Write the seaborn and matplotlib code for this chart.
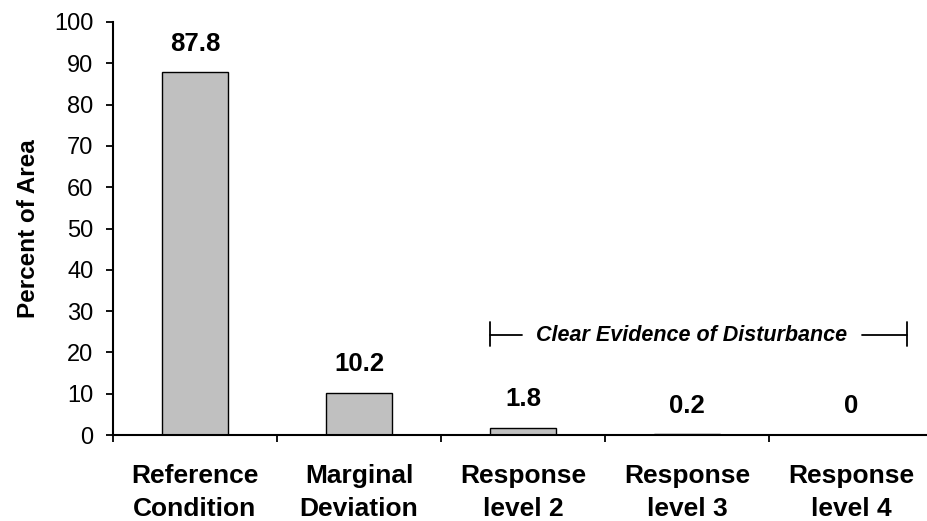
import matplotlib
matplotlib.use("Agg")
import matplotlib.pyplot as plt
import seaborn as sns
import pandas as pd
from matplotlib.ticker import FixedLocator

categories = ["Reference\nCondition", "Marginal\nDeviation", "Response\nlevel 2",
              "Response\nlevel 3", "Response\nlevel 4"]
values = [87.8, 10.2, 1.8, 0.2, 0]
value_labels = ["87.8", "10.2", "1.8", "0.2", "0"]
y_ticks = list(range(0, 101, 10))
annotation_text = "Clear Evidence of Disturbance"

sns.set_theme(style="white")
plt.rcParams['font.family'] = ['Liberation Sans', 'DejaVu Sans']
plt.rcParams['text.color'] = 'black'
plt.rcParams['axes.labelcolor'] = 'black'
plt.rcParams['xtick.color'] = 'black'
plt.rcParams['ytick.color'] = 'black'

df = pd.DataFrame({"cat": categories, "val": values})

fig = plt.figure(figsize=(9.28, 5.21), dpi=100)
ax = fig.add_axes([113/928, 86/521, 820/928, 413/521])

sns.barplot(data=df, x="cat", y="val", color="#C0C0C0", edgecolor="black",
            linewidth=1.0, width=0.4, saturation=1, ax=ax)

ax.set_ylim(0, 100)
ax.set_xlim(-0.5, 4.5)
ax.set_yticks(y_ticks)
ax.set_yticklabels([str(t) for t in y_ticks], fontsize=17)
ax.tick_params(axis="y", direction="out", length=5, width=1.3, pad=9, left=True,
               color="black", labelcolor="black")

ax.tick_params(axis="x", which="major", length=0, pad=21, labelcolor="black")
ax.xaxis.set_minor_locator(FixedLocator([i - 0.5 for i in range(len(categories) + 1)]))
ax.tick_params(axis="x", which="minor", direction="out", length=5, width=1.3,
               bottom=True, color="black")
for lab in ax.get_xticklabels():
    lab.set_fontsize(19)
    lab.set_fontweight("bold")
    lab.set_linespacing(1.45)

ax.set_xlabel("")
ax.set_ylabel("Percent of Area", fontsize=17.5, fontweight="bold", labelpad=10,
              color="black")

for side in ["top", "right"]:
    ax.spines[side].set_visible(False)
for side in ["left", "bottom"]:
    ax.spines[side].set_color("black")
    ax.spines[side].set_linewidth(1.5)

ax.bar_label(ax.containers[0], labels=value_labels, padding=12,
             fontsize=18.5, fontweight="bold", color="black")

# bracket annotation
yb = 24.2
ax.plot([1.8, 1.8], [21.5, 27.4], color="black", lw=1.3, clip_on=False)
ax.plot([1.8, 1.995], [yb, yb], color="black", lw=1.3, clip_on=False)
ax.plot([4.067, 4.341], [yb, yb], color="black", lw=1.3, clip_on=False)
ax.plot([4.341, 4.341], [21.5, 27.4], color="black", lw=1.3, clip_on=False)
ax.text(3.03, yb, annotation_text, ha="center", va="center", fontsize=15.5,
        fontweight="bold", fontstyle="italic", color="black")

fig.savefig("out.png", dpi=100)
